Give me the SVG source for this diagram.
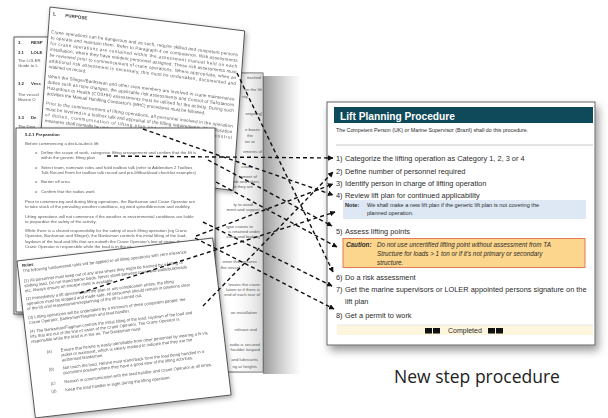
<svg xmlns="http://www.w3.org/2000/svg" width="608" height="418" viewBox="0 0 608 418">
<defs>
<style>
.pg{fill:#fff;stroke:#3a3a3a;stroke-width:0.8}
.dt{font-family:"Liberation Sans",Arial,sans-serif;font-size:4.3px;fill:#5a5a5a}
.db{font-weight:bold;fill:#333}
.bx{font-family:"Liberation Sans",Arial,sans-serif;fill:#2b2b2b}
.it{font-size:7.4px}
.conn{fill:none;stroke:#111;stroke-width:1.4;stroke-dasharray:4 3;marker-end:url(#ah)}
</style>
<marker id="ah" viewBox="0 0 10 10" refX="9" refY="5" markerWidth="4" markerHeight="4" orient="auto" markerUnits="strokeWidth">
<path d="M0,0 L10,5 L0,10 Z" fill="#111"/>
</marker>
<filter id="ds" x="-15%" y="-15%" width="135%" height="135%">
<feDropShadow dx="1.5" dy="2" stdDeviation="2.5" flood-color="#000" flood-opacity="0.35"/>
</filter>
<filter id="bs" x="-10%" y="-10%" width="125%" height="130%">
<feDropShadow dx="3" dy="5" stdDeviation="4" flood-color="#000" flood-opacity="0.4"/>
</filter>
<linearGradient id="curl" x1="0" y1="0" x2="1" y2="0">
<stop offset="0" stop-color="#777" stop-opacity="0.75"/>
<stop offset="1" stop-color="#999" stop-opacity="0"/>
</linearGradient>
<linearGradient id="inner" x1="0" y1="0" x2="1" y2="0">
<stop offset="0" stop-color="#fff" stop-opacity="0"/>
<stop offset="0.7" stop-color="#fff" stop-opacity="0"/>
<stop offset="1" stop-color="#bbb" stop-opacity="0.6"/>
</linearGradient>
</defs>
<rect width="608" height="418" fill="#fff"/>

<!-- Doc A: responsibilities (back) -->
<g id="doc-responsibilities" filter="url(#ds)">
<rect class="pg" x="14" y="37" width="214" height="277"/>
<g class="dt">
<text x="18" y="44" class="db">3.</text><text x="31" y="44" class="db">RESP</text>
<text x="18" y="53.5" class="db">3.1</text><text x="31" y="53.5" class="db">LOLE</text>
<text x="18" y="61.5">The LOLER</text>
<text x="18" y="66.5">Guide to L</text>
<text x="18" y="85" class="db">3.2</text><text x="31" y="85" class="db">Vess</text>
<text x="18" y="95.5">The vessel</text>
<text x="18" y="100.5">Marine O</text>
<text x="18" y="119" class="db">3.3</text><text x="31" y="119" class="db">De</text>
<text x="18" y="127.5">The Desi</text>
</g>
</g>

<!-- Doc B: right page with curl -->
<g id="doc-page-right">
<rect x="263" y="76" width="38" height="298" fill="url(#curl)"/>
<rect class="pg" x="150" y="73" width="113" height="299"/>
<rect x="150" y="73" width="113" height="299" fill="url(#inner)"/>
<g class="dt" text-anchor="end">
<text x="261" y="79">ttached</text>
<text x="262" y="91">on the lift</text>
<text x="248" y="98">rity</text>
<text x="262" y="115">ongoing]</text>
<text x="260" y="131">e boxes</text>
<text x="253" y="137">the</text>
<text x="255" y="143">ter or</text>
<text x="262" y="153">ements of</text>
<text x="253" y="168">cradle</text>
<text x="257" y="178">ement of</text>
<text x="260" y="183">ch climb and taken-</text>
<text x="253" y="188">ostal that they are</text>
<text x="253" y="206">ty to avoid</text>
<text x="260" y="211">ment and support</text>
<text x="253" y="228">type cranes to</text>
<text x="260" y="233">is retained under</text>
<text x="260" y="238">ssion and braking</text>
<text x="257" y="263">inner that ensures</text>
<text x="240" y="269">the vessel</text>
<text x="260" y="286">leaves the crane</text>
<text x="260" y="291">lation or if there is</text>
<text x="260" y="296">end of each tour of</text>
<text x="257" y="314">an installation</text>
<text x="257" y="331">release and</text>
<text x="260" y="346">radio is secured</text>
<text x="260" y="351">houlder lanyard</text>
<text x="258" y="361">and lubricants</text>
<text x="257" y="368">ng at heights</text>
</g>
</g>

<!-- Doc C: purpose -->
<g id="doc-purpose" filter="url(#ds)">
<g transform="matrix(0.993 0.122 -0.072 0.997 50 7)">
<rect class="pg" width="196" height="160"/>
<g class="dt" style="font-size:4.5px">
<text x="3" y="8" class="db">1.</text><text x="16" y="8" class="db">PURPOSE</text>
<text x="3" y="26" textLength="188" lengthAdjust="spacing">Crane operations can be dangerous and as such, require skilled and competent persons</text>
<text x="3" y="31.8" textLength="188" lengthAdjust="spacing">to operate and maintain them. Refer to Paragraph 4 on competence. Risk assessments</text>
<text x="3" y="37.6" textLength="188" lengthAdjust="spacing">for crane operations are contained within the assessment manual held on each</text>
<text x="3" y="43.4" textLength="188" lengthAdjust="spacing">installation, where they have resident personnel assigned. These risk assessments must</text>
<text x="3" y="49.2" textLength="188" lengthAdjust="spacing">be reviewed prior to commencement of crane operations. Where appropriate, when an</text>
<text x="3" y="55" textLength="188" lengthAdjust="spacing">additional risk assessment is necessary, this must be undertaken, documented and</text>
<text x="3" y="60.8">retained on record.</text>
<text x="3" y="70.5" textLength="188" lengthAdjust="spacing">When the Slinger/Banksman and other crew members are involved in crane maintenance</text>
<text x="3" y="76.3" textLength="188" lengthAdjust="spacing">duties such as rope changes, the applicable risk assessments and Control of Substances</text>
<text x="3" y="82.1" textLength="188" lengthAdjust="spacing">Hazardous to Health (COSHH) assessments must be utilised for the activity. During such</text>
<text x="3" y="87.9">activities the Manual Handling Contractor's (MHC) procedures must be followed.</text>
<text x="3" y="97.5" textLength="188" lengthAdjust="spacing">Prior to the commencement of lifting operations, all personnel involved in the operation</text>
<text x="3" y="103.3" textLength="188" lengthAdjust="spacing">must be involved in a toolbox talk and appraisal of the lifting requirements. The allocation</text>
<text x="3" y="109.1" textLength="188" lengthAdjust="spacing">of duties, communication of lifting plan and risk assessment, and control</text>
<text x="3" y="114.9">measures shall normally be undertaken</text>
</g>
</g>
</g>

<!-- Doc D: preparation -->
<g id="doc-preparation" filter="url(#ds)">
<rect class="pg" x="16" y="128" width="199" height="184"/>
<g class="dt" style="font-size:4.3px">
<text x="25" y="136" class="db">5.2.1 Preparation</text>
<text x="25" y="145">Before commencing a deck-to-deck lift:</text>
<text x="35" y="154">o</text><text x="41" y="154">Define the scope of work, categorise lifting arrangement and confirm that the lift is</text>
<text x="41" y="159">within the generic lifting plan</text>
<text x="35" y="169">o</text><text x="41" y="169">Select team, nominate roles and hold toolbox talk (refer to Addendum 2 Toolbox</text>
<text x="41" y="174">Talk Record Form for toolbox talk record and pre-lift/backload checklist examples)</text>
<text x="35" y="183">o</text><text x="41" y="183">Barrier off area</text>
<text x="35" y="193">o</text><text x="41" y="193">Confirm that the radios work</text>
<text x="25" y="203">Prior to commencing and during lifting operations, the Banksman and Crane Operator are</text>
<text x="25" y="208">to take stock of the prevailing weather conditions, eg wind speed/direction and visibility.</text>
<text x="25" y="218">Lifting operations will not commence if the weather or environmental conditions are liable</text>
<text x="25" y="223">to jeopardise the safety of the activity.</text>
<text x="25" y="232">While there is a shared responsibility for the safety of each lifting operation (eg Crane</text>
<text x="25" y="237">Operator, Banksman and Slinger), the Banksman controls the initial lifting of the load,</text>
<text x="25" y="243">laydown of the load and lifts that are outwith the Crane Operator's line of vision, the</text>
<text x="25" y="248">Crane Operator is responsible while the load is in the air.</text>
</g>
</g>

<!-- Doc E: rules -->
<g id="doc-rules" filter="url(#ds)">
<g transform="translate(17 261) rotate(-6.7)">
<rect class="pg" width="197" height="158"/>
<g class="dt" style="font-size:4.2px">
<text x="4.5" y="6.5" class="db">Rules</text>
<text x="4.5" y="12">The following fundamental rules will be applied to all lifting operations with zero tolerance:</text>
<text x="4.5" y="22">(1) All personnel must keep out of any area where they might be harmed by a falling or</text>
<text x="4.5" y="27">shifting load. Do not stand below loads. Never stand between loads and walls/bulkheads</text>
<text x="4.5" y="32">etc. Always ensure an escape route is available.</text>
<text x="4.5" y="40">(2) Immediately a lift deviates from the plan or any complication arises, the lifting</text>
<text x="4.5" y="45">operation must be stopped and made safe. All personnel should remain in positions clear</text>
<text x="4.5" y="50">of the lift until reassessment/replanning of the lift is carried out.</text>
<text x="4.5" y="59">(3) Lifting operations will be undertaken by a minimum of three competent people: the</text>
<text x="4.5" y="64">Crane Operator, Banksman/Flagman and load handler.</text>
<text x="4.5" y="73">(4) The Banksman/Flagman controls the initial lifting of the load, laydown of the load and</text>
<text x="4.5" y="78">lifts that are out of the line of vision of the Crane Operator. The Crane Operator is</text>
<text x="4.5" y="83">responsible while the load is in the air. The Banksman must:</text>
<text x="19" y="95">(a)</text><text x="33" y="95">Ensure that he/she is easily identifiable from other personnel by wearing a hi-vis</text>
<text x="33" y="100">jacket or waistcoat, which is clearly marked to indicate that they are the</text>
<text x="33" y="105">authorised Banksman.</text>
<text x="19" y="113">(b)</text><text x="33" y="113">Not touch the load. He/she must stand back from the load being handled in a</text>
<text x="33" y="118">prominent position where they have a good view of the lifting activities.</text>
<text x="19" y="127">(c)</text><text x="33" y="127">Remain in communication with the load handler and Crane Operator at all times.</text>
<text x="19" y="135">(d)</text><text x="33" y="135">Keep the load handler in sight during the lifting operation.</text>
</g>
</g>
</g>

<!-- Lift planning procedure -->
<g id="lift-procedure" class="bx">
<rect x="327" y="102" width="268" height="243" fill="#fff" stroke="#666" stroke-width="1" filter="url(#bs)"/>
<rect x="334" y="107" width="259" height="16" fill="#0f4a5a"/>
<text x="340" y="119.5" style="font-size:10.2px;font-weight:bold;fill:#fff">Lift Planning Procedure</text>
<text x="336" y="132" style="font-size:5.3px">The Competent Person (UK) or Marine Supervisor (Brazil) shall do this procedure.</text>
<line x1="336" y1="145" x2="593" y2="145" stroke="#c8c8c8" stroke-width="1"/>
<g class="it">
<text x="336" y="161">1)</text><text x="345" y="161">Categorize the lifting operation as Category 1, 2, 3 or 4</text>
<text x="336" y="174">2)</text><text x="345" y="174">Define number of personnel required</text>
<text x="336" y="186">3)</text><text x="345" y="186">Identify person in charge of lifting operation</text>
<text x="336" y="198">4)</text><text x="345" y="198">Review lift plan for continued applicability</text>
</g>
<rect x="343" y="200" width="243" height="19" fill="#dde8f4"/>
<text x="345" y="207" style="font-size:5.6px;font-weight:bold">Note:</text>
<text x="367" y="207" style="font-size:5.6px">We shall make a new lift plan if the generic lift plan is not covering the</text>
<text x="367" y="215" style="font-size:5.6px">planned operation.</text>
<g class="it">
<text x="336" y="234">5)</text><text x="345" y="234">Assess lifting points</text>
</g>
<rect x="343" y="238.5" width="242" height="29" fill="#fcd68c" stroke="#e0704a" stroke-width="0.9"/>
<text x="346" y="247" style="font-size:6.3px;font-weight:bold;font-style:italic">Caution:</text>
<g style="font-size:6.3px;font-style:italic">
<text x="377" y="247">Do not use uncertified lifting point without assessment from TA</text>
<text x="377" y="256">Structure for loads &gt; 1 ton or if it's not primary or secondary</text>
<text x="377" y="265">structure.</text>
</g>
<g class="it">
<text x="336" y="280">6)</text><text x="345" y="280">Do a risk assessment</text>
<text x="336" y="292">7)</text><text x="345" y="292">Get the marine supervisors or LOLER appointed persons signature on the</text>
<text x="345" y="304">lift plan</text>
<text x="336" y="318">8)</text><text x="345" y="318">Get a permit to work</text>
</g>
<rect x="337" y="325" width="256" height="10" fill="#fdf5dc"/>
<line x1="337" y1="325" x2="593" y2="325" stroke="#ddd" stroke-width="0.6"/>
<rect x="425" y="328" width="7" height="5.5" fill="#111"/>
<rect x="433" y="328" width="7" height="5.5" fill="#111"/>
<text x="448" y="333" style="font-size:7px">Completed</text>
<rect x="488" y="328" width="7" height="5.5" fill="#111"/>
<rect x="496" y="328" width="7" height="5.5" fill="#111"/>
</g>

<text id="caption" x="477" y="383" text-anchor="middle" style="font-family:'Open Sans','Noto Sans',sans-serif;font-size:17.5px;fill:#222">New step procedure</text>

<g id="connectors">
<path class="conn" d="M107,156 L333,158"/>
<path class="conn" d="M203,306 L333,172"/>
<path class="conn" d="M196,236 L333,184"/>
<path class="conn" d="M143,129 L333,195"/>
<path class="conn" d="M80,293 L335,212"/>
<path class="conn" d="M208,160 L332,226"/>
<path class="conn" d="M216,182 L337,247"/>
<path class="conn" d="M237,73 L333,272"/>
<path class="conn" d="M203,222 L332,286"/>
<path class="conn" d="M195,238 L334,309"/>
</g>
</svg>
